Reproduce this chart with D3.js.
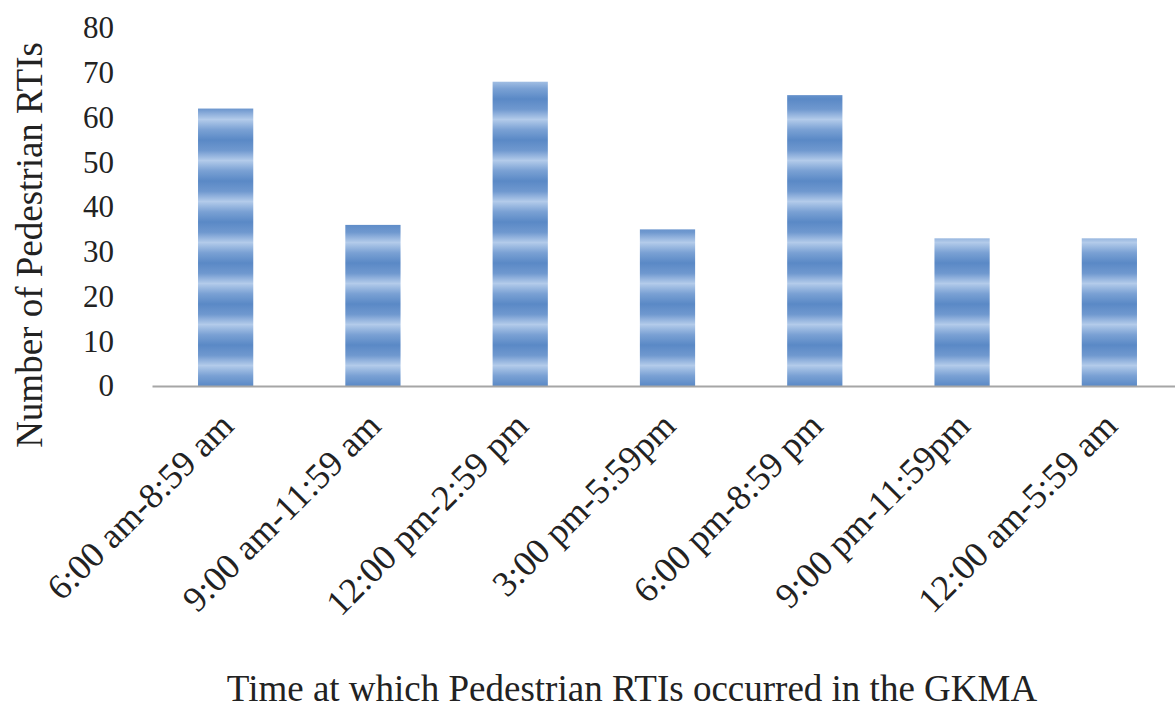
<!DOCTYPE html>
<html><head><meta charset="utf-8">
<script src="https://cdn.jsdelivr.net/npm/d3@7"></script>
<style>body{margin:0;background:#fff}svg{display:block}</style>
</head><body>
<script>
const categories = ["6:00 am-8:59 am","9:00 am-11:59 am","12:00 pm-2:59 pm","3:00 pm-5:59pm","6:00 pm-8:59 pm","9:00 pm-11:59pm","12:00 am-5:59 am"];
const values = [62, 36, 68, 35, 65, 33, 33];
const yTicks = [0,10,20,30,40,50,60,70,80];
const yTitle = "Number of Pedestrian RTIs";
const xTitle = "Time at which Pedestrian RTIs occurred in the GKMA";

const W = 1175, H = 709;
const svg = d3.select("body").append("svg").attr("width", W).attr("height", H);
const font = "'Liberation Serif','Times New Roman',serif";

const x = d3.scaleBand().domain(categories).range([152, 1183]).paddingInner(0.625).paddingOuter(0.3125);
const y = d3.scaleLinear().domain([0, 80]).range([386, 28]);

const defs = svg.append("defs");
const grad = defs.append("linearGradient").attr("id","stripeGrad").attr("x1",0).attr("y1",0).attr("x2",0).attr("y2",1);
[[0,"#5a89c6"],[0.25,"#6f98cf"],[0.5,"#b3cbea"],[0.75,"#7aa1d4"],[1,"#5a89c6"]].forEach(([o,c])=>grad.append("stop").attr("offset",o).attr("stop-color",c));
const pat = defs.append("pattern").attr("id","stripes").attr("patternUnits","userSpaceOnUse")
  .attr("x",0).attr("y",y(0)).attr("width",10).attr("height",41);
pat.append("rect").attr("width",10).attr("height",41).attr("fill","url(#stripeGrad)");

svg.append("g").selectAll("rect").data(values).join("rect")
  .attr("x",(d,i)=>x(categories[i])).attr("width",x.bandwidth())
  .attr("y",d=>y(d)).attr("height",d=>y(0)-y(d))
  .attr("fill","url(#stripes)");

// x axis baseline
const xAxis = svg.append("g").attr("transform",`translate(0,${y(0)})`)
  .call(d3.axisBottom(x).tickSize(0).tickPadding(0));
xAxis.select(".domain").attr("stroke","#a6a6a6").attr("stroke-width",2);
xAxis.selectAll(".tick text")
  .attr("font-family",font).attr("font-size",36).attr("fill","#222")
  .attr("text-anchor","end").attr("dy",null).attr("y",null)
  .attr("transform","translate(10,42) rotate(-45)");

// y axis labels
const yAxis = svg.append("g").attr("transform","translate(114,0)")
  .call(d3.axisLeft(y).tickValues(yTicks).tickSize(0).tickPadding(0));
yAxis.select(".domain").remove();
yAxis.selectAll(".tick text").attr("font-family",font).attr("font-size",31).attr("fill","#222");

svg.append("text").attr("transform","translate(42,245) rotate(-90)")
  .attr("text-anchor","middle").attr("font-family",font).attr("font-size",37).attr("fill","#222").text(yTitle);
svg.append("text").attr("x",632).attr("y",701)
  .attr("text-anchor","middle").attr("font-family",font).attr("font-size",37).attr("fill","#222").text(xTitle);
</script>
</body></html>
